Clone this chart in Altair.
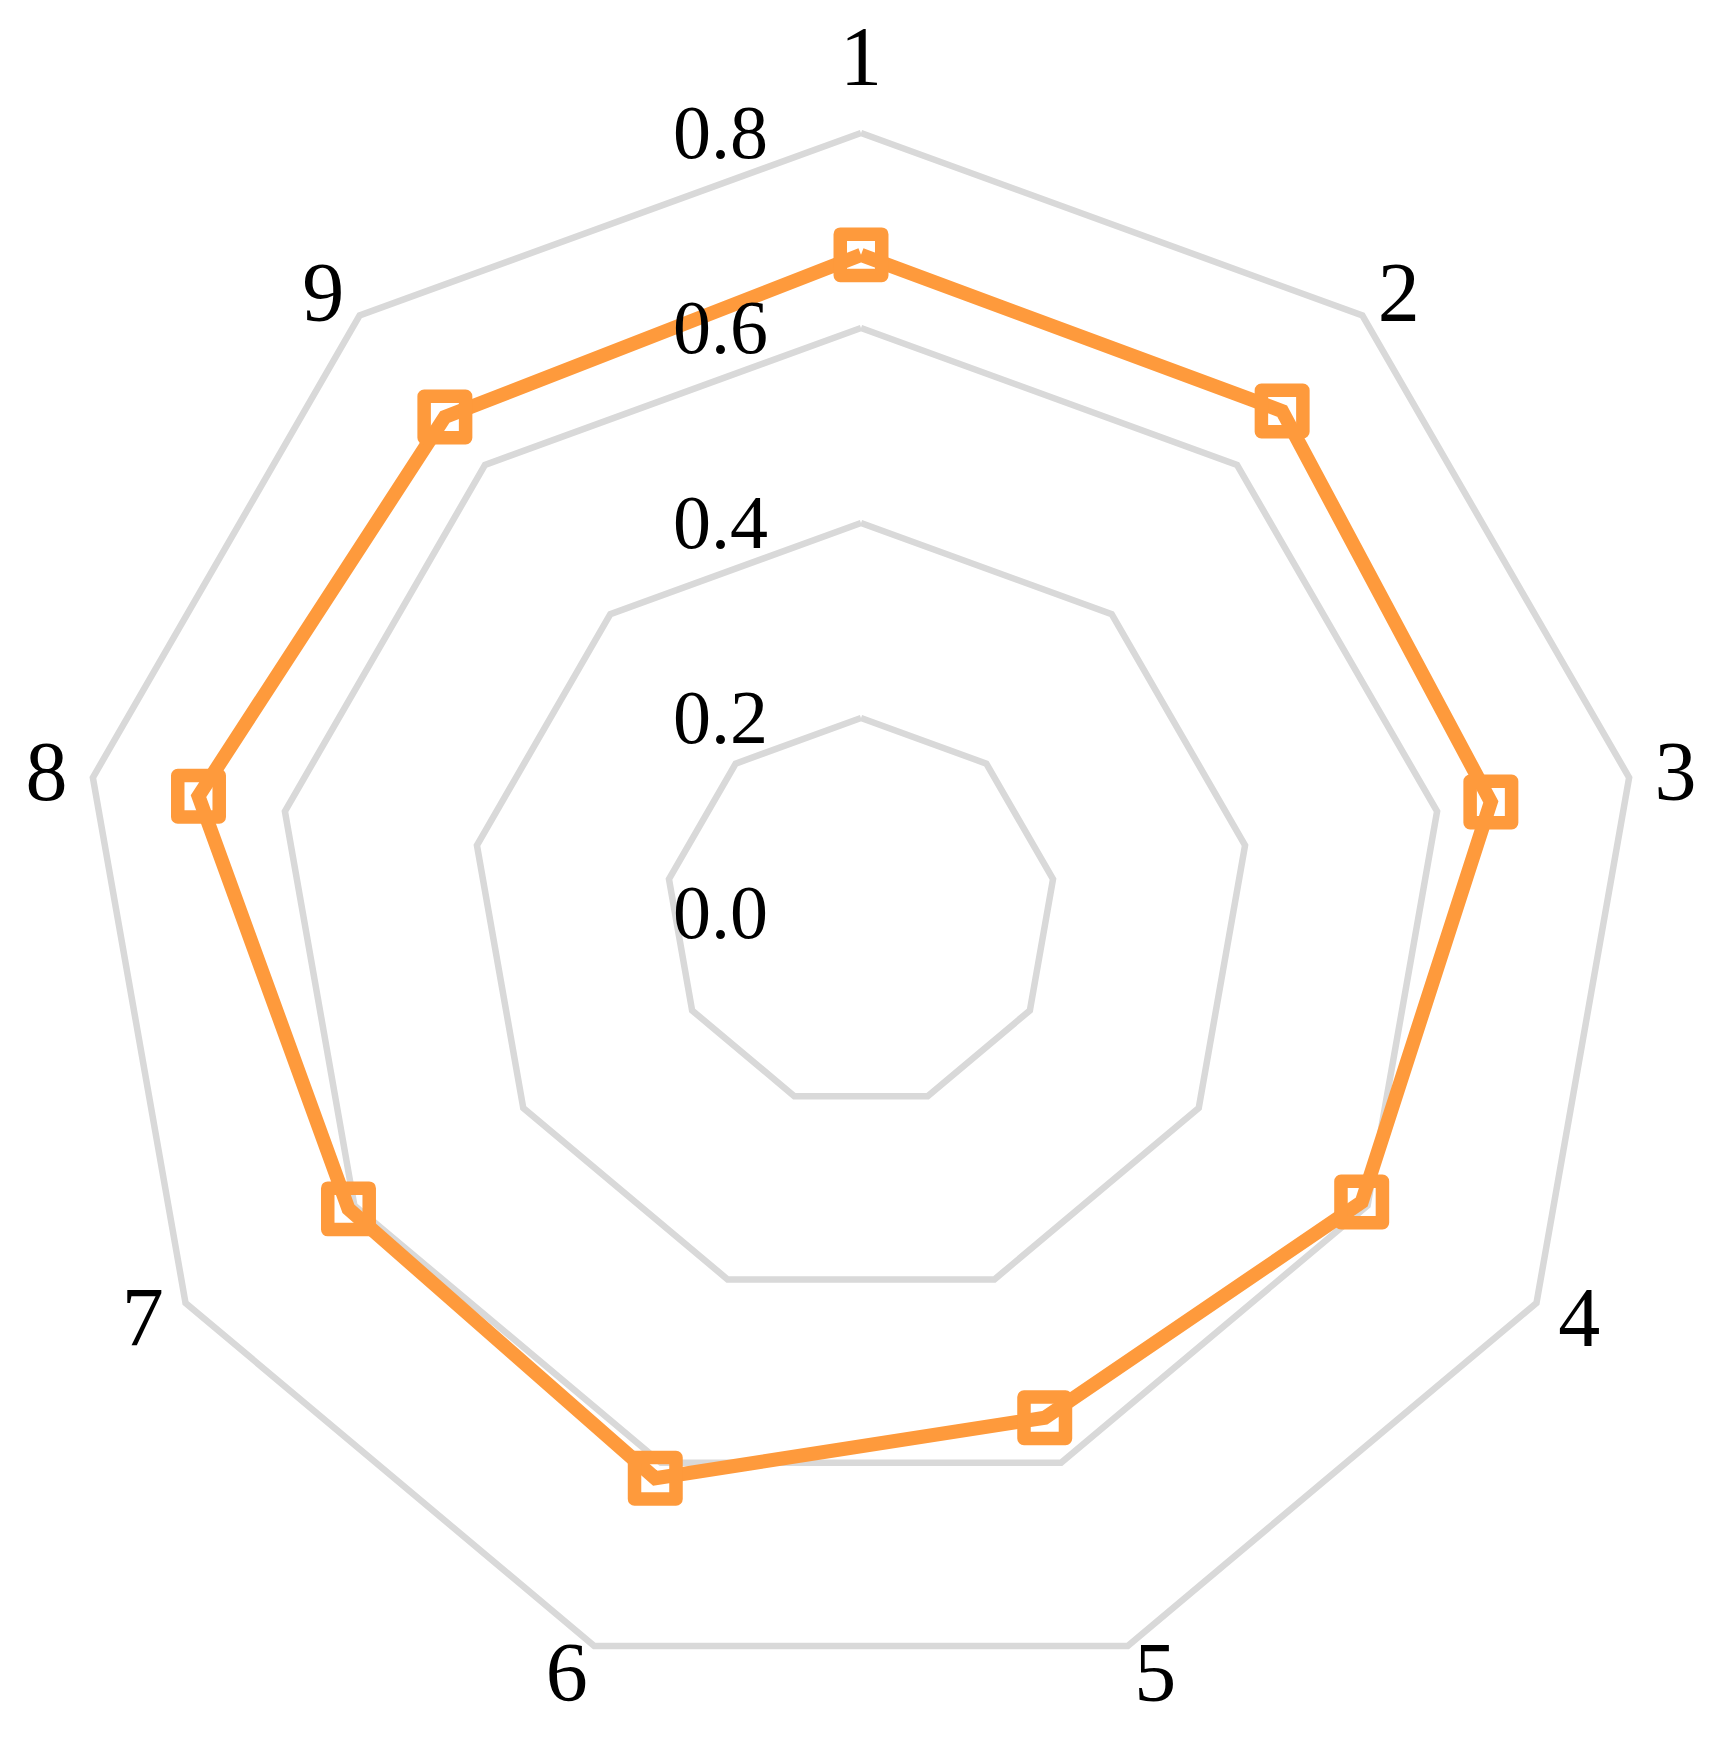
import altair as alt
import pandas as pd

categories = ["1", "2", "3", "4", "5", "6", "7", "8", "9"]
values = [0.675, 0.672, 0.656, 0.593, 0.551, 0.617, 0.607, 0.690, 0.664]
ring_levels = [0.2, 0.4, 0.6, 0.8]
tick_values = [0.0, 0.2, 0.4, 0.6, 0.8]
tick_labels = ["0.0", "0.2", "0.4", "0.6", "0.8"]

n = len(categories)

series_rows = [{"k": i, "idx": i % n, "r": values[i % n]} for i in range(n + 1)]
series_df = pd.DataFrame(series_rows)

ring_rows = []
for lv in ring_levels:
    for i in range(n + 1):
        ring_rows.append({"level": lv, "k": i, "idx": i % n, "r": lv})
ring_df = pd.DataFrame(ring_rows)

label_df = pd.DataFrame({"idx": list(range(n)), "cat": categories})
tick_df = pd.DataFrame({"v": tick_values, "lab": tick_labels})

xs = alt.Scale(domain=[-0.8749, 0.8749], nice=False, zero=False)
ys = alt.Scale(domain=[-0.8421, 0.9282], nice=False, zero=False)

def polar(ch):
    return ch.transform_calculate(
        th=f"datum.idx * 2 * PI / {n}"
    ).transform_calculate(
        px="datum.r * sin(datum.th)", py="datum.r * cos(datum.th)"
    )

X = alt.X("px:Q", scale=xs, axis=None)
Y = alt.Y("py:Q", scale=ys, axis=None)

rings = polar(alt.Chart(ring_df)).mark_line(
    color="#d9d9d9", strokeWidth=6.5, strokeJoin="miter"
).encode(x=X, y=Y, detail="level:N", order="k:Q")

orange = "#fe9a3c"

line = polar(alt.Chart(series_df)).mark_line(
    color=orange, strokeWidth=14, strokeJoin="miter"
).encode(x=X, y=Y, order="k:Q")

pts = polar(alt.Chart(series_df[series_df["k"] < n])).mark_point(
    shape="square", size=1720, filled=False, strokeWidth=13.5, color=orange,
    opacity=1, strokeJoin="round"
).encode(x=X, y=Y)

labels = alt.Chart(label_df).transform_calculate(
    th=f"datum.idx * 2 * PI / {n}"
).transform_calculate(
    px="0.83 * sin(datum.th) + (datum.idx == 0 ? 0 : (sin(datum.th) > 0 ? 0.018 : -0.018))",
    py="datum.idx == 0 ? 0.878 : 0.83 * cos(datum.th)",
).mark_text(
    font="Liberation Serif", fontSize=84, color="black", align="center",
    baseline="middle", dy=3
).encode(x=X, y=Y, text="cat:N")

ticks = alt.Chart(tick_df).transform_calculate(
    px="-0.1441"
).mark_text(
    font="Liberation Serif", fontSize=76, color="black", align="center",
    baseline="middle", dy=2
).encode(x=X, y=alt.Y("v:Q", scale=ys, axis=None), text="lab:N")

chart = alt.layer(rings, line, pts, labels, ticks).properties(
    width=1706, height=1726, padding=0,
    autosize=alt.AutoSizeParams(type="none"),
    background="white",
).configure_view(stroke=None)

chart.save("out.html", embed_options={"renderer": "svg", "actions": False})
